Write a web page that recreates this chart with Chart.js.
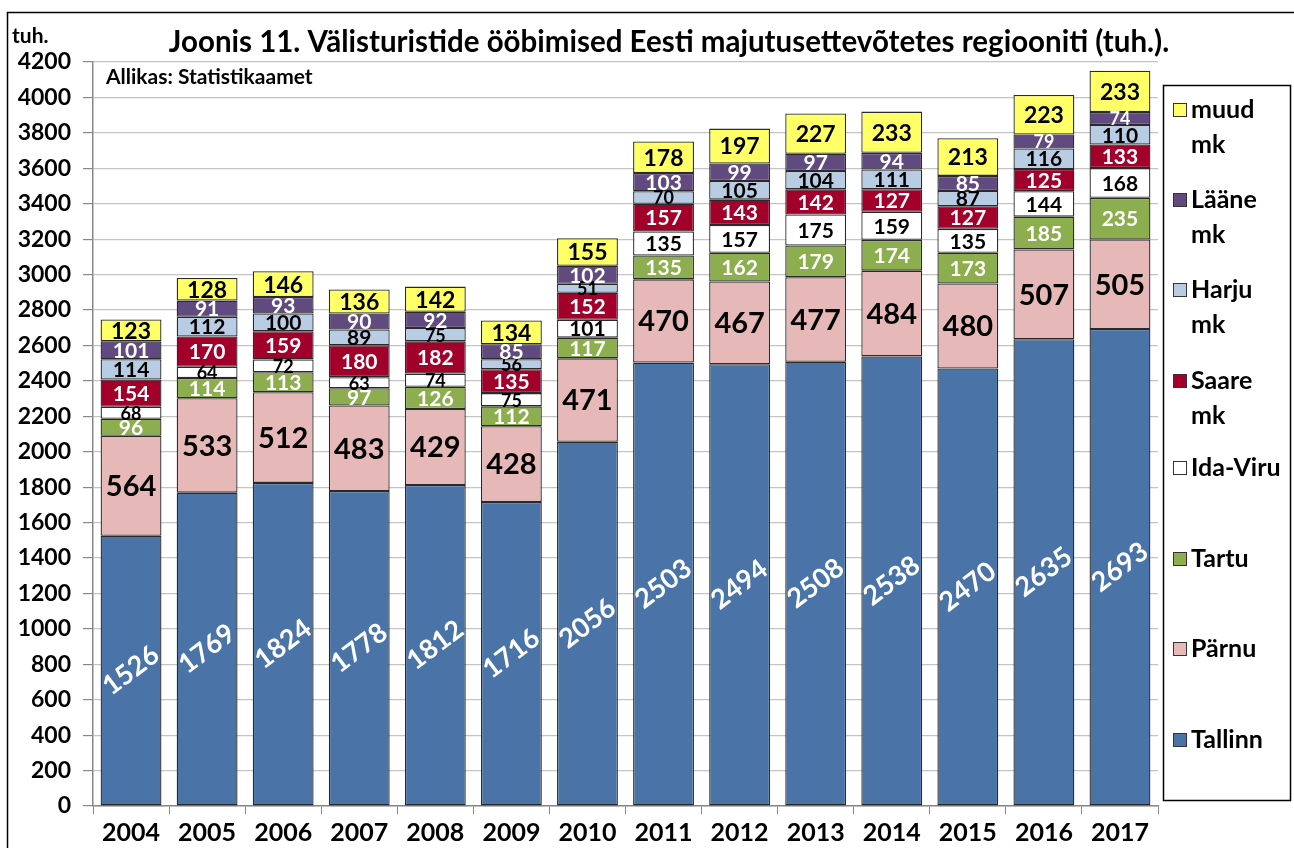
<!DOCTYPE html>
<html><head><meta charset="utf-8">
<script src="https://cdn.jsdelivr.net/npm/chart.js@4/dist/chart.umd.min.js"></script>
<style>html,body{margin:0;padding:0;background:#fff;}#wrap{width:1294px;height:848px;position:relative;}</style>
</head><body><div id="wrap"><canvas id="c" width="1294" height="848"></canvas></div>
<script>
const years = ['2004','2005','2006','2007','2008','2009','2010','2011','2012','2013','2014','2015','2016','2017'];
const tallinn = [1526,1769,1824,1778,1812,1716,2056,2503,2494,2508,2538,2470,2635,2693];
const parnu   = [564,533,512,483,429,428,471,470,467,477,484,480,507,505];
const tartu   = [96,114,113,97,126,112,117,135,162,179,174,173,185,235];
const idaViru = [68,64,72,63,74,75,101,135,157,175,159,135,144,168];
const saare   = [154,170,159,180,182,135,152,157,143,142,127,127,125,133];
const harju   = [114,112,100,89,75,56,51,70,105,104,111,87,116,110];
const laane   = [101,91,93,90,92,85,102,103,99,97,94,85,79,74];
const muud    = [123,128,146,136,142,134,155,178,197,227,233,213,223,233];
const seriesNames = ['Tallinn','Pärnu','Tartu','Ida-Viru','Saare mk','Harju mk','Lääne mk','muud mk'];
const titleText = 'Joonis 11. Välisturistide ööbimised Eesti majutusettevõtetes regiooniti (tuh.).';
const unitText = 'tuh.';
const sourceText = 'Allikas: Statistikaamet';

const FONT = 'Lato, "Open Sans", sans-serif';
const colors = ['#4A74A8','#E6B8B7','#8CAE4E','#FFFFFF','#A2002A','#B8CCE4','#604A80','#FFFF66'];
const labelColors = ['#FFFFFF','#000000','#FFFFFF','#000000','#FFFFFF','#000000','#FFFFFF','#000000'];
const allData = [tallinn,parnu,tartu,idaViru,saare,harju,laane,muud];

const datasets = allData.map((d,i)=>({
  label: seriesNames[i], data: d, backgroundColor: colors[i],
  borderColor:'#2a2a2a', borderWidth:1.3, borderSkipped:false,
  barPercentage:0.8, categoryPercentage:1.0
}));

const labelPlugin = {
  id:'labels',
  afterDatasetsDraw(chart){
    const ctx = chart.ctx;
    ctx.save();
    ctx.textAlign='center'; ctx.textBaseline='middle';
    chart.data.datasets.forEach((ds,di)=>{
      const meta = chart.getDatasetMeta(di);
      meta.data.forEach((el,i)=>{
        const v = ds.data[i];
        const cy = (el.y + el.base)/2;
        ctx.fillStyle = labelColors[di];
        if(di===0){
          ctx.save();
          ctx.translate(el.x, cy);
          ctx.rotate(-37*Math.PI/180);
          ctx.font = 'bold 27px '+FONT;
          ctx.fillText(String(v),0,0);
          ctx.restore();
        } else if(di===1){
          ctx.font = 'bold 29px '+FONT;
          ctx.fillText(String(v), el.x, cy+1);
        } else {
          const h = Math.abs(el.base-el.y);
          ctx.font = (di===7 ? 'bold 23px ' : (h<14 ? 'bold 18px ' : 'bold 21px ')) + FONT;
          ctx.fillText(String(v), el.x, cy+1);
        }
      });
    });
    ctx.restore();
  }
};

const decoPlugin = {
  id:'deco',
  afterDraw(chart){
    const ctx = chart.ctx;
    ctx.save();
    ctx.strokeStyle='#000'; ctx.lineWidth=1.5;
    ctx.beginPath(); ctx.moveTo(7.5,900); ctx.lineTo(7.5,12.5); ctx.lineTo(1300,12.5); ctx.stroke();
    ctx.fillStyle='#000'; ctx.textBaseline='middle';
    ctx.font='bold 29.5px '+FONT; ctx.textAlign='center';
    ctx.fillText(titleText, 669, 42);
    ctx.font='bold 21px '+FONT; ctx.textAlign='left';
    ctx.fillText(unitText, 12, 36);
    ctx.fillText(sourceText, 106, 77);
    const lx=1163, ly=85, lw=127, lh=715;
    ctx.fillStyle='#fff'; ctx.fillRect(lx,ly,lw,lh);
    ctx.strokeStyle='#000'; ctx.lineWidth=1.5; ctx.strokeRect(lx+0.5,ly+0.5,lw,lh);
    const items = [
      {i:7, lines:['muud','mk'], y:110},
      {i:6, lines:['Lääne','mk'], y:200},
      {i:5, lines:['Harju','mk'], y:290},
      {i:4, lines:['Saare','mk'], y:381},
      {i:3, lines:['Ida-Viru'], y:468},
      {i:2, lines:['Tartu'], y:559},
      {i:1, lines:['Pärnu'], y:649},
      {i:0, lines:['Tallinn'], y:740}
    ];
    ctx.font='bold 25px '+FONT; ctx.textAlign='left'; ctx.textBaseline='middle';
    items.forEach(it=>{
      ctx.fillStyle=colors[it.i]; ctx.fillRect(1173,it.y-7,14,14);
      ctx.strokeStyle='#333'; ctx.lineWidth=1; ctx.strokeRect(1173.5,it.y-6.5,13,13);
      ctx.fillStyle='#000';
      it.lines.forEach((t,k)=>ctx.fillText(t,1191,it.y+k*35));
    });
    ctx.restore();
  }
};

new Chart(document.getElementById('c'), {
  type:'bar',
  data:{labels:years, datasets},
  options:{
    responsive:false, animation:false,
    layout:{padding:{top:62,right:136,bottom:0,left:0}},
    plugins:{legend:{display:false}, title:{display:false}, tooltip:{enabled:false}},
    scales:{
      x:{stacked:true,
        grid:{display:true, drawOnChartArea:false, drawTicks:true, tickLength:8, tickColor:'#888', offset:true},
        border:{color:'#888',width:1.5},
        ticks:{color:'#000',font:{family:FONT,weight:'bold',size:25},padding:4},
        afterFit(s){s.height=42;}
      },
      y:{stacked:true,min:0,max:4200,
        ticks:{stepSize:200,color:'#000',font:{family:FONT,weight:'bold',size:23},padding:12,
          callback:(v)=>String(v)},
        grid:{color:'#C4C4C4',lineWidth:1.2,tickLength:10,tickColor:'#888'},
        border:{color:'#888',width:1.5},
        afterFit(s){s.width=93;}
      }
    }
  },
  plugins:[labelPlugin, decoPlugin]
});
</script></body></html>
